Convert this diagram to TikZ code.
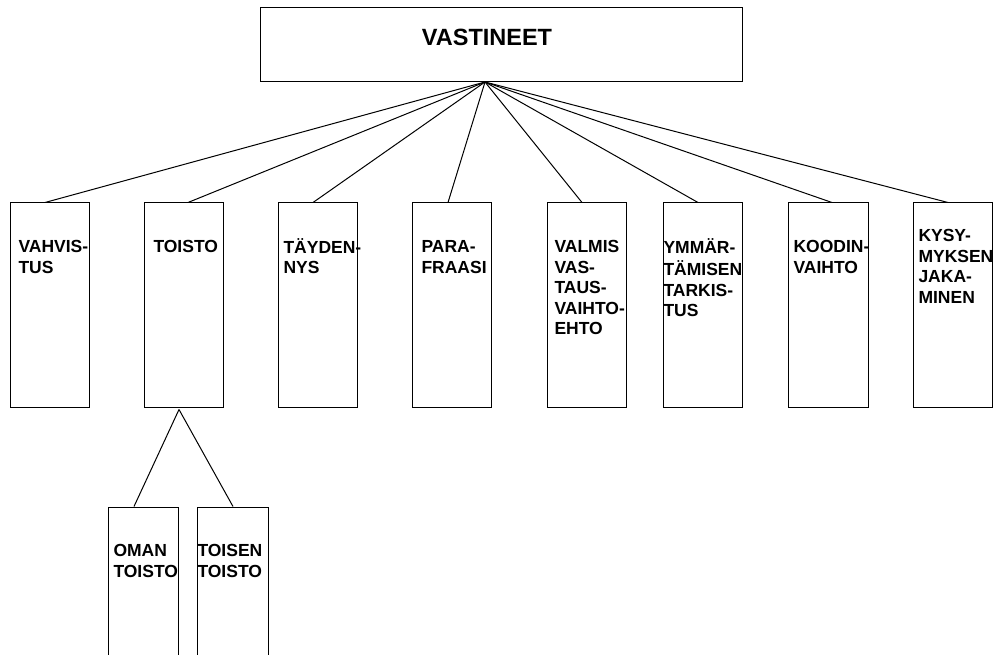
\documentclass[tikz,border=0pt]{standalone}
\usepackage{fontspec}
\setmainfont{Liberation Sans}
\begin{document}
\begin{tikzpicture}[x=1pt,y=-1pt,line width=1pt,
  box/.style={draw,inner sep=0pt,minimum width=79pt,minimum height=204pt},
  subbox/.style={draw,inner sep=0pt,minimum height=163pt},
  lbl/.style={inner sep=0pt,anchor=north west,align=left,
    font=\bfseries\fontsize{17.5}{20.5}\selectfont},
  conn/.style={draw,line width=1pt}]
\useasboundingbox (0,0) rectangle (994,655);
\clip (0,0) rectangle (994,655);
\fill[white] (0,0) rectangle (994,655);
% top box
\node[draw,inner sep=0pt,minimum width=482pt,minimum height=74pt] (top) at (501,45) {};
\node[inner sep=0pt,anchor=base,font=\bfseries\fontsize{23.5}{28}\selectfont] (toptxt) at (487,46) {VASTINEET};
\coordinate (hub) at (485,82);
% row boxes
\node[box] (b1) at (49.5,305) {};
\node[box] (b2) at (183.5,305) {};
\node[box] (b3) at (317.5,305) {};
\node[box] (b4) at (451.5,305) {};
\node[box] (b5) at (586.5,305) {};
\node[box] (b6) at (702.5,305) {};
\node[box,minimum width=80pt] (b7) at (828,305) {};
\node[box] (b8) at (952.5,305) {};
% labels
\node[lbl] (t1) at (18,238) {\strut VAHVIS-\\TUS};
\node[lbl] (t2) at (153,238) {\strut TOISTO};
\node[lbl] (t3) at (283,238) {\strut TÄYDEN-\\NYS};
\node[lbl] (t4) at (421,238) {\strut PARA-\\FRAASI};
\node[lbl] (t5) at (554,238) {\strut VALMIS\\VAS-\\TAUS-\\VAIHTO-\\EHTO};
\node[lbl] (t6) at (663,238) {\strut YMMÄR-\\TÄMISEN\\TARKIS-\\TUS};
\node[lbl] (t7) at (793,238) {\strut KOODIN-\\VAIHTO};
\node[lbl] (t8) at (918,227) {\strut KYSY-\\MYKSEN\\JAKA-\\MINEN};
% connectors from top
\draw[conn] (hub) -- ([xshift=-4.5pt]b1.north);
\draw[conn] (hub) -- ([xshift=4.5pt]b2.north);
\draw[conn] (hub) -- ([xshift=-4.5pt]b3.north);
\draw[conn] (hub) -- ([xshift=-3.5pt]b4.north);
\draw[conn] (hub) -- ([xshift=-4.5pt]b5.north);
\draw[conn] (hub) -- ([xshift=-4.5pt]b6.north);
\draw[conn] (hub) -- ([xshift=4pt]b7.north);
\draw[conn] (hub) -- ([xshift=-4.5pt]b8.north);
% sub boxes
\node[subbox,minimum width=70pt] (o1) at (143,588.5) {};
\node[subbox,minimum width=71pt] (o2) at (232.5,588.5) {};
\node[lbl] (s1) at (113,542) {\strut OMAN\\TOISTO};
\node[lbl] (s2) at (197,542) {\strut TOISEN\\TOISTO};
\coordinate (sub) at ([xshift=-4.5pt,yshift=-2pt]b2.south);
\draw[conn] (sub) -- ([xshift=-9pt]o1.north);
\draw[conn] (sub) -- ([xshift=0.5pt]o2.north);
\end{tikzpicture}
\end{document}
